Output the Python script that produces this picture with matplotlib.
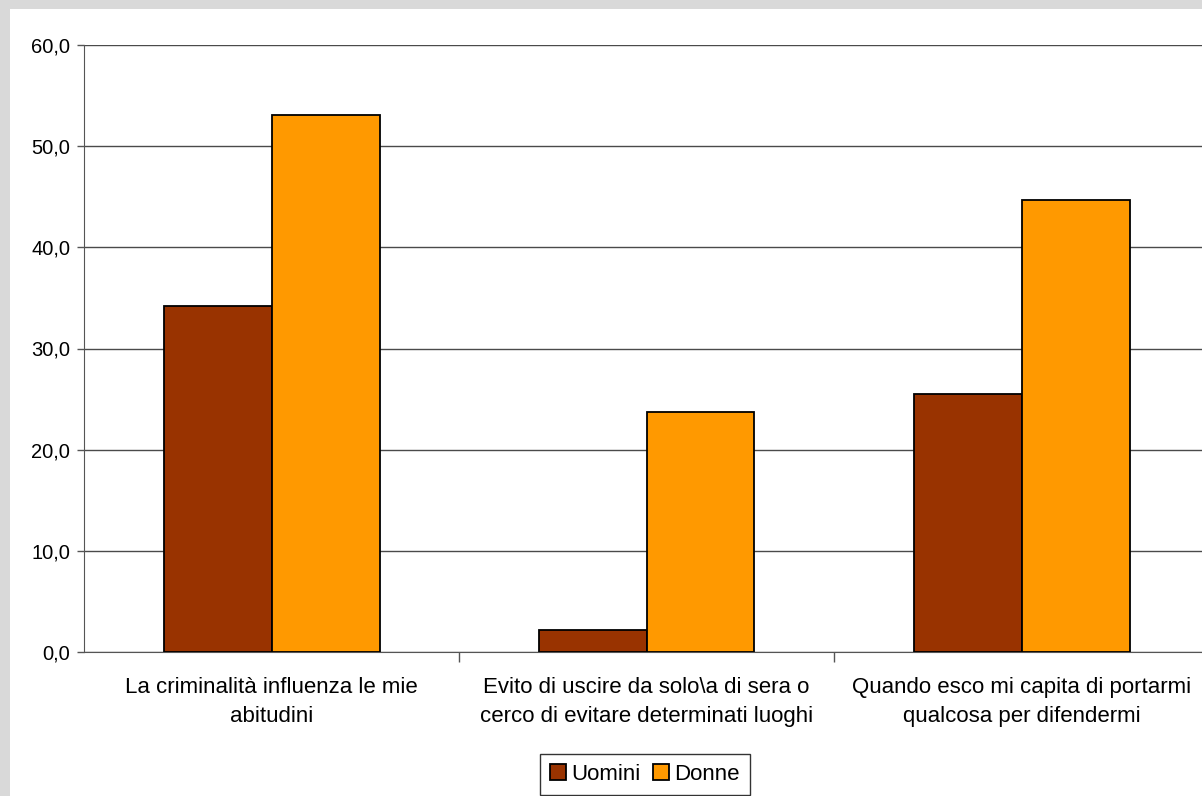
import matplotlib
matplotlib.use("Agg")
import matplotlib.pyplot as plt
from matplotlib.patches import Rectangle
import numpy as np

categories = ["La criminalità influenza le mie\nabitudini",
              "Evito di uscire da solo\\a di sera o\ncerco di evitare determinati luoghi",
              "Quando esco mi capita di portarmi\nqualcosa per difendermi"]
uomini = [34.2, 2.2, 25.5]
donne = [53.1, 23.7, 44.7]
series_names = ["Uomini", "Donne"]
yticks = [0, 10, 20, 30, 40, 50, 60]

plt.rcParams['font.family'] = ['Liberation Sans', 'DejaVu Sans']

W, H = 1202, 796
fig = plt.figure(figsize=(W / 100, H / 100), dpi=100)
fig.patch.set_facecolor('#d9d9d9')
bg = Rectangle((10 / W, 0), 1.1, 1 - 9 / H, transform=fig.transFigure,
               facecolor='white', edgecolor='none', zorder=-10)
fig.patches.append(bg)

left, right, bottom, top = 84, 1209, 652, 45
ax = fig.add_axes([left / W, (H - bottom) / H, (right - left) / W, (bottom - top) / H])
ax.set_facecolor('none')

x = np.arange(len(categories))
bw = 0.288
ax.bar(x - bw / 2, uomini, bw, color='#993300', edgecolor='black', linewidth=1.3,
       label=series_names[0], zorder=3)
ax.bar(x + bw / 2, donne, bw, color='#FF9900', edgecolor='black', linewidth=1.3,
       label=series_names[1], zorder=3)

ax.set_xlim(-0.5, len(categories) - 0.5)
ax.set_ylim(0, 60)
ax.set_yticks(yticks)
ax.set_yticklabels([f"{v:.1f}".replace('.', ',') for v in yticks])
ax.yaxis.grid(True, color='#4a4a4a', linewidth=1.0, zorder=1)
ax.set_axisbelow(True)

ax.set_xticks(x)
ax.set_xticklabels(categories, fontsize=16, linespacing=1.53)
ax.set_xticks(np.arange(len(categories) - 1) + 0.5, minor=True)
ax.tick_params(axis='x', which='major', length=0, pad=18)
ax.tick_params(axis='x', which='minor', length=7, color='#555555', width=1)
ax.tick_params(axis='y', length=5, color='#555555', width=1, labelsize=14.5, pad=5)

for s in ['top', 'right']:
    ax.spines[s].set_visible(False)
ax.spines['left'].set_color('#555555')
ax.spines['bottom'].set_color('#555555')

leg = fig.legend(loc='center', bbox_to_anchor=(645 / W, 1 - 774 / H), ncol=2,
                 fontsize=16, frameon=True, fancybox=False, handlelength=0.7,
                 handleheight=0.7, handletextpad=0.25, columnspacing=0.55,
                 borderpad=0.45, borderaxespad=0)
leg.get_frame().set_edgecolor('black')
leg.get_frame().set_linewidth(1.0)

fig.savefig('out.png', dpi=100, facecolor=fig.get_facecolor())
